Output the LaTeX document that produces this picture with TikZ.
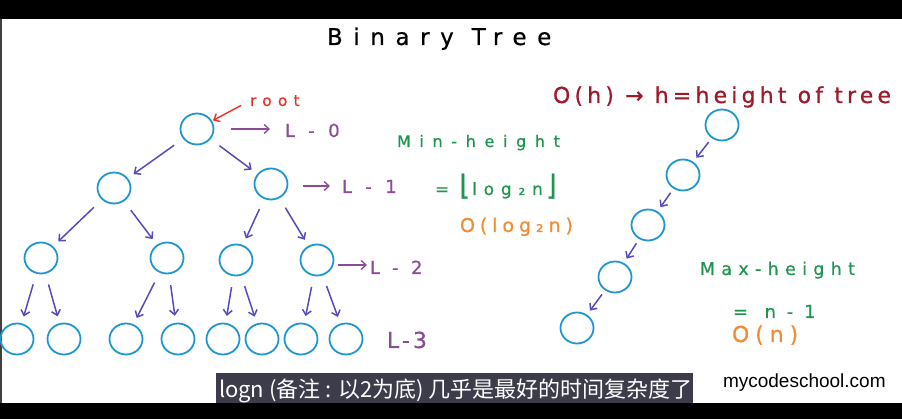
\documentclass[tikz,border=0pt]{standalone}
\usepackage{fontspec}
\setmainfont{DejaVu Sans}
\newfontfamily\hand[FakeBold=0.6]{DejaVu Sans}
\newfontfamily\cjk{Noto Sans CJK SC}
\newfontfamily\site{Liberation Sans}
\usetikzlibrary{arrows.meta,shapes.geometric}
\definecolor{cblue}{RGB}{30,150,210}
\definecolor{tarrow}{RGB}{85,75,190}
\definecolor{lpurple}{RGB}{140,75,150}
\definecolor{rootred}{RGB}{230,50,40}
\definecolor{hgreen}{RGB}{30,150,80}
\definecolor{horange}{RGB}{240,140,50}
\definecolor{hdark}{RGB}{160,25,40}
\definecolor{subbox}{RGB}{60,60,75}
\newcommand\hw[3]{\hand\fontsize{#1}{#1}\selectfont\addfontfeatures{LetterSpace=#2}#3}
\begin{document}
\begin{tikzpicture}[x=1pt,y=-1pt,
  tnode/.style={ellipse,draw=cblue,line width=1.8pt,minimum width=33pt,minimum height=31pt,inner sep=0pt},
  tarr/.style={draw=tarrow,line width=1.5pt,-{Straight Barb[length=5pt,width=9pt]},shorten <=11pt,shorten >=7pt},
  carr/.style={draw=tarrow,line width=1.5pt,-{Straight Barb[length=5pt,width=9pt]},shorten <=5pt,shorten >=5pt},
  larr/.style={draw=lpurple,line width=1.3pt,-{Straight Barb[length=5pt,width=9pt]}},
  txt/.style={anchor=base west,inner sep=0pt,outer sep=0pt}]
\useasboundingbox (0,0) rectangle (902,419);
\fill[white] (0,0) rectangle (902,419);
\fill[black] (0,0) rectangle (902,19);
\fill[black] (0,403) rectangle (902,419);
\fill[black!75] (0,19) rectangle (1.5,403);
% title
\node[txt] (title) at (327,45) {\hw{23}{46}{Binary Tree}};
% tree nodes
\node[tnode] (r) at (197,129) {};
\node[tnode] (a) at (114,188) {};
\node[tnode] (b) at (271,184) {};
\node[tnode] (c) at (41,258) {};
\node[tnode] (d) at (167,258) {};
\node[tnode] (e) at (236,260) {};
\node[tnode] (f) at (317,260) {};
\node[tnode] (g1) at (17,339) {};
\node[tnode] (g2) at (64,339) {};
\node[tnode] (g3) at (126,339) {};
\node[tnode] (g4) at (178,339) {};
\node[tnode] (g5) at (223,339) {};
\node[tnode] (g6) at (262,339) {};
\node[tnode] (g7) at (301,339) {};
\node[tnode] (g8) at (346,339) {};
\draw[tarr] (r) -- (a);
\draw[tarr] (r) -- (b);
\draw[tarr] (a) -- (c);
\draw[tarr] (a) -- (d);
\draw[tarr] (b) -- (e);
\draw[tarr] (b) -- (f);
\draw[tarr] (c) -- (g1);
\draw[tarr] (c) -- (g2);
\draw[tarr] (d) -- (g3);
\draw[tarr] (d) -- (g4);
\draw[tarr] (e) -- (g5);
\draw[tarr] (e) -- (g6);
\draw[tarr] (f) -- (g7);
\draw[tarr] (f) -- (g8);
% root label
\node[txt,text=rootred] (rootlbl) at (250,106) {\hw{15.5}{40}{root}};
\draw[draw=rootred,line width=1.4pt,-{Straight Barb[length=5pt,width=9pt]},shorten <=10pt,shorten >=1pt] (rootlbl.west) -- (r);
% level labels
\node[txt,text=lpurple] (L0) at (285,137) {\hw{18}{75}{L-0}};
\node[txt,text=lpurple] (L1) at (342,193) {\hw{18}{75}{L-1}};
\node[txt,text=lpurple] (L2) at (370,274) {\hw{18}{69}{L-2}};
\node[txt,text=lpurple] (L3) at (387,348) {\hw{22}{14}{L-3}};
\draw[larr,shorten <=17pt,shorten >=15pt] (r.east) -- (r.east -| L0.west);
\draw[larr,shorten <=15pt,shorten >=12pt] ([yshift=-2pt]b.east) -- ([yshift=-2pt]b.east -| L1.west);
\draw[larr,shorten <=4pt,shorten >=3pt] ([yshift=-5pt]f.east) -- ([yshift=-5pt]f.east -| L2.west);
% min height
\node[txt,text=hgreen] (minh) at (397,147) {\hw{16}{54}{Min-height}};
\node[txt,text=hgreen] (minf) at (435,195) {\hw{17}{0}{=}\hspace{10pt}\hw{28}{0}{⌊}\hspace{2pt}\hw{17}{40}{log₂n}\hspace{3pt}\hw{28}{0}{⌋}};
\node[txt,text=horange] (minO) at (460,232) {\hw{19}{26}{O(log₂n)}};
% chain
\node[tnode] (s1) at (722,125) {};
\node[tnode] (s2) at (683,175) {};
\node[tnode] (s3) at (648,225) {};
\node[tnode] (s4) at (615,277) {};
\node[tnode] (s5) at (577,328) {};
\draw[carr] (s1) -- (s2);
\draw[carr] (s2) -- (s3);
\draw[carr] (s3) -- (s4);
\draw[carr] (s4) -- (s5);
\node[txt,text=hdark] (oh) at (553,103) {\hw{22}{19}{O(h) → h=height of tree}};
\node[txt,text=hgreen] (maxh) at (700,275) {\hw{17.5}{36}{Max-height}};
\node[txt,text=hgreen] (maxf) at (733,318) {\hw{18}{60}{= n-1}};
\node[txt,text=horange] (maxO) at (732,342) {\hw{22}{27}{O(n)}};
% subtitle
\fill[subbox] (216,373) rectangle (693,403);
\node[txt,text=white] (sub) at (219,398) {\cjk\fontsize{22}{22}\selectfont logn (备注 : 以2为底) 几乎是最好的时间复杂度了};
\node[txt,text=black] (site) at (723,388) {\site\fontsize{19}{19}\selectfont mycodeschool.com};
\end{tikzpicture}
\end{document}
